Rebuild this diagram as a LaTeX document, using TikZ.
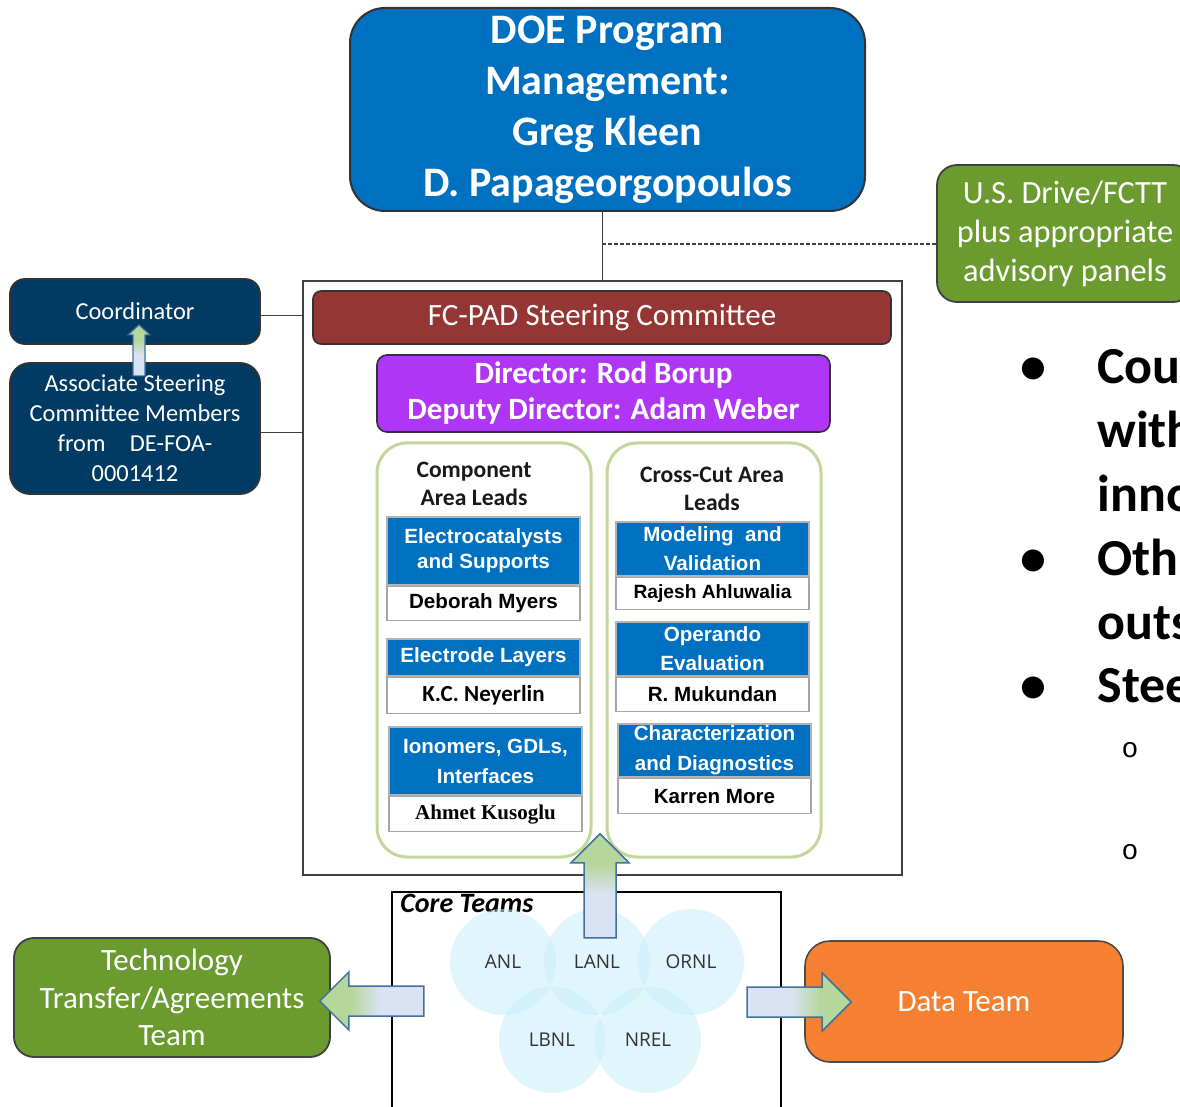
\documentclass[tikz,border=0pt]{standalone}
\usepackage{fontspec}
\setmainfont{Carlito}
\newfontfamily\arialfont{Liberation Sans}
\newfontfamily\timesfont{Liberation Serif}
\newfontfamily\labfont{Open Sans}
\newfontfamily\courfont{Liberation Mono}
\usetikzlibrary{calc}
\definecolor{doeblue}{RGB}{0,112,192}
\definecolor{navybox}{RGB}{1,58,98}
\definecolor{leafgreen}{RGB}{107,155,47}
\definecolor{brick}{RGB}{148,54,52}
\definecolor{dirpurple}{RGB}{176,54,246}
\definecolor{paleleaf}{RGB}{195,214,155}
\definecolor{teamorange}{RGB}{245,128,50}
\definecolor{arrowgreen}{RGB}{181,215,155}
\definecolor{arrowblue}{RGB}{218,227,243}
\definecolor{arrowedge}{RGB}{65,113,156}
\definecolor{labcircle}{RGB}{200,236,250}
\pgfdeclareverticalshading{arrowshade}{100bp}{color(0bp)=(arrowblue); color(46bp)=(arrowblue); color(60bp)=(arrowgreen); color(100bp)=(arrowgreen)}
\begin{document}
\begin{tikzpicture}[x=0.5pt,y=-0.5pt,
		every node/.style={inner sep=0pt, align=center},
		mgmt/.style={rectangle, rounded corners=17.5pt, fill=doeblue, draw=black!80, line width=1pt, text=white, font=\bfseries\fontsize{21}{25.5}\selectfont},
		leafbox/.style={rectangle, rounded corners=10pt, fill=leafgreen, draw=black!75, line width=0.9pt, text=white},
		navy/.style={rectangle, rounded corners=7.5pt, fill=navybox, draw=black!80, line width=0.9pt, text=white, minimum width=125pt, font=\fontsize{12.2}{15}\selectfont},
		areabox/.style={rectangle, fill=doeblue, draw=black!30, line width=0.8pt, text=white, minimum width=96.5pt, font=\arialfont\bfseries\fontsize{10.3}{12.5}\selectfont},
		leadbox/.style={rectangle, fill=white, draw=black!35, line width=0.8pt, text=black, minimum width=96.5pt, font=\arialfont\bfseries\fontsize{10.3}{12}\selectfont},
		leadcol/.style={rectangle, rounded corners=15pt, draw=paleleaf, line width=1.5pt, minimum width=107pt, minimum height=207pt},
		coltitle/.style={text=black!90, font=\bfseries\fontsize{11.8}{14}\selectfont},
		lab/.style={circle, minimum size=53pt, fill=labcircle, fill opacity=0.55, text opacity=1, text=black!80, font=\labfont\fontsize{9.5}{11}\selectfont},
		fatarrow/.style={draw=arrowedge, line width=0.75pt, shading=arrowshade},
		link/.style={draw=black!75, line width=0.6pt},
		point/.style={anchor=base west, font=\bfseries\fontsize{26}{32}\selectfont}]
	\useasboundingbox (0,0) rectangle (1180,1107);
	% management and advisory
	\node[mgmt, minimum width=257.5pt, minimum height=101.5pt] (doe) at (607.5,109.5) {DOE Program\\Management:\\Greg Kleen\\D. Papageorgopoulos};
	\node[leafbox, minimum width=128pt, minimum height=68.5pt, font=\fontsize{16.2}{19.5}\selectfont] (usdrive) at (1065,233.5) {U.S. Drive/FCTT\\plus appropriate\\advisory panels};
	% steering committee frame
	\node[draw=black!75, line width=0.75pt, minimum width=299.5pt, minimum height=297pt] (frame) at (602.5,578) {};
	\node[rectangle, rounded corners=4pt, fill=brick, draw=black!80, line width=0.8pt, text=white, minimum width=289pt, minimum height=26.5pt, font=\fontsize{15.5}{18}\selectfont] (fcpad) at (602,317.5) {FC-PAD Steering Committee};
	\node[rectangle, rounded corners=5pt, fill=dirpurple, draw=black!80, line width=0.8pt, text=white, minimum width=226.5pt, minimum height=38.5pt, font=\bfseries\fontsize{15.5}{18}\selectfont] (director) at (603.5,393.5) {Director: Rod Borup\\Deputy Director: Adam Weber};
	% component area leads
	\node[leadcol] (compcol) at (484,650) {};
	\node[coltitle] (comptitle) at (474,484) {Component\\Area Leads};
	\node[areabox, minimum height=34pt] (ecat) at (483.5,551) {Electrocatalysts\\and Supports};
	\node[leadbox, minimum height=17pt, anchor=north] (myers) at (ecat.south) {Deborah Myers};
	\node[areabox, minimum height=18.5pt] (elayer) at (483.5,657.5) {Electrode Layers};
	\node[leadbox, minimum height=18pt, anchor=north, font=\bfseries\fontsize{11.5}{13}\selectfont] (neyerlin) at (elayer.south) {K.C. Neyerlin};
	\node[areabox, minimum height=34pt, font=\arialfont\bfseries\fontsize{10.3}{15}\selectfont] (ionomer) at (485.5,761) {Ionomers, GDLs,\\Interfaces};
	\node[leadbox, minimum height=17.5pt, anchor=north, font=\timesfont\bfseries\fontsize{10.5}{12}\selectfont] (kusoglu) at (ionomer.south) {Ahmet Kusoglu};
	% cross-cut area leads
	\node[leadcol] (crosscol) at (714,650) {};
	\node[coltitle] (crosstitle) at (712,489) {Cross-Cut Area\\Leads};
	\node[areabox, minimum height=27pt, font=\arialfont\bfseries\fontsize{10.3}{14.5}\selectfont] (model) at (712.5,549) {Modeling\ \ and\\Validation};
	\node[leadbox, minimum height=16pt, anchor=north, font=\arialfont\bfseries\fontsize{9.6}{12}\selectfont] (ahluwalia) at (model.south) {Rajesh Ahluwalia};
	\node[areabox, minimum height=27pt, font=\arialfont\bfseries\fontsize{10.3}{14.5}\selectfont] (operando) at (712.5,649) {Operando\\Evaluation};
	\node[leadbox, minimum height=17pt, anchor=north] (mukundan) at (operando.south) {R. Mukundan};
	\node[areabox, minimum height=26.5pt, font=\arialfont\bfseries\fontsize{10.3}{15}\selectfont] (charac) at (714.5,750.5) {Characterization\\and Diagnostics};
	\node[leadbox, minimum height=17.5pt, anchor=north] (more) at (charac.south) {Karren More};
	% coordinator side
	\node[navy, minimum height=32.5pt] (coord) at (135,311.5) {Coordinator};
	\node[navy, minimum height=65.5pt, rounded corners=10pt] (assoc) at (135,428.5) {Associate Steering\\Committee Members\\from\quad DE-FOA-\\0001412};
	% core teams
	\node[draw=black, line width=0.75pt, minimum width=194.5pt, minimum height=118pt] (core) at (586.5,1010) {};
	\node[anchor=west, font=\bfseries\itshape\fontsize{14}{16}\selectfont] (coretitle) at (400,903) {Core Teams};
	\node[lab] (anl) at (503,962) {ANL};
	\node[lab] (lanl) at (597,962) {LANL};
	\node[lab] (ornl) at (691,962) {ORNL};
	\node[lab] (lbnl) at (552,1040) {LBNL};
	\node[lab] (nrel) at (648,1040) {NREL};
	% support teams
	\node[leafbox, minimum width=158pt, minimum height=59.5pt, font=\fontsize{15.5}{18.75}\selectfont] (techtransfer) at (172,997.5) {Technology\\Transfer/Agreements\\Team};
	\node[rectangle, rounded corners=12.5pt, fill=teamorange, draw=black!70, line width=0.8pt, text=white, minimum width=159pt, minimum height=60.5pt, font=\fontsize{15.5}{18}\selectfont] (data) at (964,1001.5) {Data Team};
	% connectors
	\draw[link] (doe.south -| frame.north) -- (frame.north);
	\coordinate (tap) at (602,244);
	\draw[link, dash pattern=on 2pt off 1pt] (tap) -- (tap -| usdrive.west);
	\draw[link] ([yshift=-2pt]coord.east) -- ([yshift=-2pt]coord.east -| frame.west);
	\draw[link] ([yshift=-2pt]assoc.east) -- ([yshift=-2pt]assoc.east -| frame.west);
	% block arrows
	\coordinate (uptip) at ($(frame.south)+(-2.5,-42)$);
	\path[fatarrow] (uptip) -- ++(29,29) -- ++(-13,0) -- ++(0,75) -- ++(-32,0) -- ++(0,-75) -- ++(-13,0) -- cycle;
	\coordinate (lefttip) at ($(techtransfer.east)+(-11,3.5)$);
	\path[fatarrow, shading angle=90] (lefttip) -- ++(29,-29) -- ++(0,14) -- ++(75,0) -- ++(0,30) -- ++(-75,0) -- ++(0,14) -- cycle;
	\coordinate (righttip) at ($(data.west)+(47,0.5)$);
	\path[fatarrow, shading angle=-90] (righttip) -- ++(-29,-29) -- ++(0,14) -- ++(-75,0) -- ++(0,30) -- ++(75,0) -- ++(0,14) -- cycle;
	\coordinate (smalltip) at ($(coord.south)+(4,-20)$);
	\path[fatarrow, line width=0.6pt] (smalltip) -- ++(11,10) -- ++(-5,0) -- ++(0,41) -- ++(-12,0) -- ++(0,-41) -- ++(-5,0) -- cycle;
	% bullet text at the right edge
	\foreach \word [count=\k from 0] in {Cou,with,inno,Oth,outs,Stee}
		\node[point] (line\k) at (1097,384+63.8*\k) {\word};
	\foreach \k in {0,3,5}
		\node[point, anchor=base] (dot\k) at (1033,384+63.8*\k) {•};
	\node[font=\courfont\fontsize{14}{16}\selectfont] (sub1) at (1130,750) {o};
	\node[font=\courfont\fontsize{14}{16}\selectfont] (sub2) at (1130,852) {o};
\end{tikzpicture}
\end{document}
